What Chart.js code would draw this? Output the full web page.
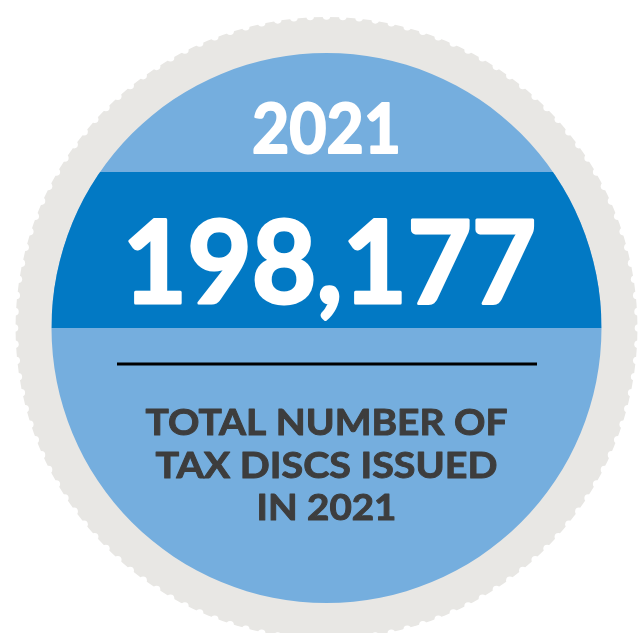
<!DOCTYPE html>
<html>
<head>
<meta charset="utf-8">
<script src="https://cdn.jsdelivr.net/npm/chart.js@4/dist/chart.umd.min.js"></script>
<style>
html,body{margin:0;padding:0;background:#ffffff;}
#wrap{width:640px;height:633px;position:relative;}
</style>
</head>
<body>
<div id="wrap"><canvas id="c" width="640" height="633"></canvas></div>
<script>
// ---- data ----
const categories = ['Tax discs issued'];
const years = ['2021'];
const values = [198177];
const captionLines = ['TOTAL NUMBER OF', 'TAX DISCS ISSUED', 'IN ' + years[0]];

const COLORS = {
  light: '#75AEDE',
  dark: '#0279C4',
  ring: '#E8E7E4',
  text: '#3D3D3D'
};

function fitText(ctx, text, x, baseline, size, color, targetW, thick) {
  ctx.save();
  ctx.font = '700 ' + size + 'px Lato, "Open Sans", sans-serif';
  ctx.fillStyle = color;
  ctx.strokeStyle = color;
  ctx.lineJoin = 'round';
  ctx.textBaseline = 'alphabetic';
  ctx.textAlign = 'center';
  const w = ctx.measureText(text).width + thick;
  const sx = targetW / w;
  ctx.translate(x, baseline);
  ctx.scale(sx, 1);
  ctx.fillText(text, 0, 0);
  if (thick > 0) {
    ctx.lineWidth = thick;
    ctx.strokeText(text, 0, 0);
  }
  ctx.restore();
}

const badgePlugin = {
  id: 'badge',
  beforeDatasetsDraw(chart) {
    const ctx = chart.ctx;
    const arc = chart.getDatasetMeta(0).data[0];
    const cx = arc.x, cy = arc.y, r = arc.outerRadius;
    const R = r + 36;
    ctx.save();
    ctx.fillStyle = COLORS.ring;
    ctx.beginPath();
    ctx.arc(cx, cy, R, 0, Math.PI * 2);
    ctx.fill();
    // scalloped edge
    ctx.fillStyle = '#ffffff';
    const n = 120;
    for (let i = 0; i < n; i++) {
      const a = i / n * Math.PI * 2;
      ctx.beginPath();
      ctx.arc(cx + Math.cos(a) * (R + 1), cy + Math.sin(a) * (R + 1), 3.8, 0, Math.PI * 2);
      ctx.fill();
    }
    ctx.restore();
  },
  afterDatasetsDraw(chart) {
    const ctx = chart.ctx;
    const arc = chart.getDatasetMeta(0).data[0];
    const cx = arc.x, cy = arc.y, r = arc.outerRadius;
    ctx.save();
    ctx.beginPath();
    ctx.arc(cx, cy, r, 0, Math.PI * 2);
    ctx.clip();
    ctx.fillStyle = COLORS.dark;
    ctx.fillRect(cx - r, cy - 156, 2 * r, 156);
    ctx.restore();

    fitText(ctx, years[0], cx, cy - 175, 68, '#ffffff', 151, 2);
    fitText(ctx, values[0].toLocaleString('en-US'), cx + 3, cy - 25, 114, '#ffffff', 417, 3);

    ctx.save();
    ctx.strokeStyle = '#000000';
    ctx.lineWidth = 3;
    ctx.beginPath();
    ctx.moveTo(117, cy + 36);
    ctx.lineTo(537, cy + 36);
    ctx.stroke();
    ctx.restore();

    const widths = [363, 343, 141];
    const bases = [435, 478, 520];
    captionLines.forEach((t, i) => {
      fitText(ctx, t, cx, bases[i], 37, COLORS.text, widths[i], 1);
    });
  }
};

new Chart(document.getElementById('c'), {
  type: 'pie',
  data: {
    labels: categories,
    datasets: [{
      data: values,
      backgroundColor: [COLORS.light],
      borderWidth: 0
    }]
  },
  options: {
    responsive: false,
    animation: false,
    layout: { padding: { left: 51, right: 38, top: 53, bottom: 30 } },
    plugins: {
      legend: { display: false },
      tooltip: { enabled: false },
      title: { display: false }
    }
  },
  plugins: [badgePlugin]
});
</script>
</body>
</html>
